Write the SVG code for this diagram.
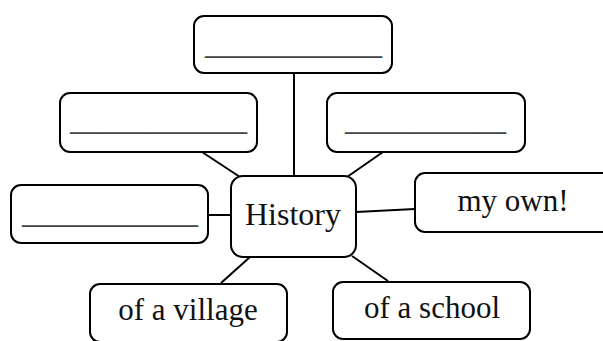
<svg xmlns="http://www.w3.org/2000/svg" width="603" height="341" viewBox="0 0 603 341">
<style>
.box{fill:#fff;stroke:#000;stroke-width:2}
.lbl{font-family:"Liberation Serif",serif;font-size:31px;fill:#111;text-anchor:middle}
.blank{font-family:"Liberation Serif",serif;font-size:34px;fill:#444;}
.conn line{stroke:#000;stroke-width:2}
</style>
<rect width="603" height="341" fill="#fff"/>
<g id="connectors" class="conn">
<line x1="294" y1="73" x2="294" y2="176"/>
<line x1="202" y1="152" x2="240" y2="177"/>
<line x1="383" y1="152" x2="347" y2="177"/>
<line x1="208" y1="215" x2="231" y2="215"/>
<line x1="356" y1="212" x2="415" y2="209"/>
<line x1="250" y1="257" x2="221" y2="283"/>
<line x1="352" y1="256" x2="388" y2="281"/>
</g>
<g id="top">
<rect class="box" x="194" y="16" width="198" height="57" rx="10"/>
<text class="blank" x="205" y="53.8" textLength="177" lengthAdjust="spacingAndGlyphs">___________</text>
</g>
<g id="upperLeft">
<rect class="box" x="60" y="93" width="197" height="59" rx="10"/>
<text class="blank" x="70" y="129.8" textLength="177" lengthAdjust="spacingAndGlyphs">___________</text>
</g>
<g id="upperRight">
<rect class="box" x="327" y="93" width="198" height="59" rx="10"/>
<text class="blank" x="345" y="129.8" textLength="161" lengthAdjust="spacingAndGlyphs">__________</text>
</g>
<g id="left">
<rect class="box" x="11" y="185" width="197" height="58" rx="10"/>
<text class="blank" x="22" y="223.1" textLength="176" lengthAdjust="spacingAndGlyphs">___________</text>
</g>
<g id="center">
<rect class="box" x="231" y="176" width="125" height="81" rx="12"/>
<text class="lbl" x="293" y="225" style="font-size:32px">History</text>
</g>
<g id="myown">
<rect class="box" x="415" y="173" width="197" height="59" rx="10"/>
<text class="lbl" x="513" y="211">my own!</text>
</g>
<g id="village">
<rect class="box" x="90" y="284" width="197" height="58" rx="10"/>
<text class="lbl" x="188" y="320">of a village</text>
</g>
<g id="school">
<rect class="box" x="333" y="282" width="197" height="57" rx="10"/>
<text class="lbl" x="432" y="318">of a school</text>
</g>
</svg>
